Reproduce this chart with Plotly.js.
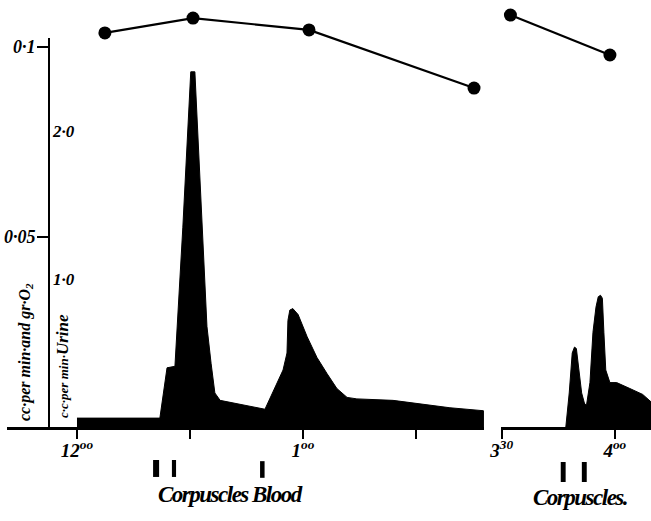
<!DOCTYPE html>
<html>
<head>
<meta charset="utf-8">
<script src="https://cdn.plot.ly/plotly-3.0.1.min.js"></script>
<style>html,body{margin:0;padding:0;background:#fff;}#chart{width:651px;height:521px;}</style>
</head>
<body>
<div id="chart"></div>
<script>
// ---- data (time in minutes after 12:00) ----
// urine, first period (cc per min)
const urineTime1 = [0, 22.0, 23.9, 26.0, 28.1, 30.2, 31.3, 32.4, 33.5, 34.5, 35.6, 36.6, 38.0, 49.9, 54.7, 55.75, 56.0, 56.5, 57.3, 58.7, 61.1, 63.7, 66.4, 69.0, 71.7, 74.3, 83.9, 90.3, 99.0, 107.9, 107.9];
const urineValue1 = [0.06, 0.06, 0.40, 0.41, 1.35, 2.40, 2.40, 1.80, 1.14, 0.68, 0.43, 0.23, 0.18, 0.12, 0.385, 0.50, 0.72, 0.79, 0.80, 0.76, 0.61, 0.47, 0.36, 0.26, 0.20, 0.19, 0.18, 0.16, 0.13, 0.11, 0];
// urine, second period
const urineTime2 = [227.0, 227.9, 228.7, 229.3, 229.8, 230.4, 231.2, 232.0, 232.5, 233.4, 234.2, 235.0, 235.6, 236.2, 236.7, 237.1, 237.6, 238.7, 240.5, 244.0, 247.4, 249.6];
const urineValue2 = [0, 0.23, 0.50, 0.54, 0.53, 0.41, 0.23, 0.155, 0.15, 0.30, 0.64, 0.81, 0.88, 0.89, 0.87, 0.64, 0.385, 0.30, 0.30, 0.26, 0.22, 0.17];
// oxygen (cc per min and gr.)
const o2Time1 = [7.4, 30.8, 61.6, 105.4];
const o2Value1 = [0.1037, 0.1076, 0.1045, 0.0892];
const o2Time2 = [212.3, 238.7];
const o2Value2 = [0.1084, 0.0979];
// injections
const corpusclesTimes1 = [21.0, 25.75];
const bloodTimes = [49.2];
const corpusclesTimes2 = [226.3, 231.9];
// ticks
const xTickVals1 = [0, 30, 60, 90];
const xTickText1 = ['12<sup>oo</sup>', '', '1<sup>oo</sup>', ''];
const xTickVals2 = [210, 240];
const xTickText2 = ['3<sup>30</sup>', '4<sup>oo</sup>'];
const o2TickVals = [0.05, 0.1];
const o2TickText = ['0·05', '0·1'];
const urineTickVals = [1, 2];
const urineTickText = ['1·0', '2·0'];

// ---- styling ----
const FAM = '"Liberation Serif", "DejaVu Serif", serif';
const labelFont = (s) => ({family: FAM, size: s, color: '#000', style: 'italic', weight: 'bold'});
const W = 651;
const cond = (t, ls) => '<span style="letter-spacing:' + ls + 'px">' + t + '</span>';

const traces = [
  {x: urineTime1, y: urineValue1, xaxis: 'x', yaxis: 'y2', mode: 'lines', fill: 'tozeroy',
   fillcolor: '#000', line: {color: '#000', width: 1}, hoverinfo: 'skip'},
  {x: urineTime2, y: urineValue2, xaxis: 'x2', yaxis: 'y2', mode: 'lines', fill: 'tozeroy',
   fillcolor: '#000', line: {color: '#000', width: 1}, hoverinfo: 'skip'},
  {x: o2Time1, y: o2Value1, xaxis: 'x', yaxis: 'y', mode: 'lines+markers',
   line: {color: '#000', width: 2.2}, marker: {color: '#000', size: 13}, cliponaxis: false},
  {x: o2Time2, y: o2Value2, xaxis: 'x2', yaxis: 'y', mode: 'lines+markers',
   line: {color: '#000', width: 2.2}, marker: {color: '#000', size: 13}, cliponaxis: false}
];

function injShapes(times, xref, y0, y1, w) {
  return times.map(t => ({type: 'rect', xref: xref, yref: 'paper', x0: t - w / 2, x1: t + w / 2,
    y0: y0, y1: y1, fillcolor: '#000', line: {width: 0}}));
}
const shapes = [
  {type: 'line', xref: 'paper', yref: 'y', x0: 49 / W, x1: 49 / W, y0: 0, y1: 0.1024,
   line: {color: '#000', width: 2}},
  ...injShapes([corpusclesTimes1[0]], 'x', -0.0773, -0.117, 1.6),
  ...injShapes([corpusclesTimes1[1]], 'x', -0.0773, -0.117, 1.1),
  ...injShapes(bloodTimes, 'x', -0.08, -0.119, 1.2),
  ...injShapes(corpusclesTimes2, 'x2', -0.082, -0.1288, 1.3)
];

const annotations = [
  {text: 'cc·per min·and gr·O<sub>2</sub>', xref: 'paper', yref: 'paper', x: 25 / W, y: 0.1756,
   textangle: -90, showarrow: false, xanchor: 'center', yanchor: 'middle', font: labelFont(16)},
  {text: '<span style="font-size:13px">c·c·per min·</span>Urine', xref: 'paper', yref: 'paper', x: 63 / W, y: 0.143,
   textangle: -90, showarrow: false, xanchor: 'center', yanchor: 'middle', font: labelFont(17)},
  {text: cond('Corpuscles', -1.5), xref: 'paper', yref: 'paper', x: 203.5 / W, y: -0.157, showarrow: false,
   xanchor: 'center', yanchor: 'middle', font: labelFont(23)},
  {text: cond('Blood', -1.5), xref: 'paper', yref: 'paper', x: 277 / W, y: -0.157, showarrow: false,
   xanchor: 'center', yanchor: 'middle', font: labelFont(23)},
  {text: cond('Corpuscles.', -1.5), xref: 'paper', yref: 'paper', x: 580 / W, y: -0.164, showarrow: false,
   xanchor: 'center', yanchor: 'middle', font: labelFont(23)}
];

const axisCommon = {showgrid: false, zeroline: false, showline: true, linecolor: '#000', linewidth: 2.5,
  ticks: 'outside', ticklen: 9, tickwidth: 2.5, tickcolor: '#000', tickfont: labelFont(19), tickmode: 'array',
  ticklabelstandoff: -4, fixedrange: true};

const layout = {
  width: 651, height: 521,
  margin: {l: 0, r: 0, t: 0, b: 94, pad: 0},
  paper_bgcolor: '#fff', plot_bgcolor: '#fff',
  showlegend: false,
  xaxis: Object.assign({}, axisCommon, {domain: [7 / W, 484 / W], range: [-18.58, 108.05], anchor: 'y',
    tickvals: xTickVals1, ticktext: xTickText1}),
  xaxis2: Object.assign({}, axisCommon, {domain: [501 / W, 1], range: [209.8, 249.6], anchor: 'y',
    tickvals: xTickVals2, ticktext: xTickText2}),
  yaxis: {domain: [0, 1], range: [0, 427 / 3800], anchor: 'free', position: 49 / W, showline: false,
    showgrid: false, zeroline: false, ticks: 'outside', ticklen: 12, tickwidth: 2, tickcolor: '#000',
    ticklabelstandoff: -2,
    tickmode: 'array', tickvals: o2TickVals, ticktext: o2TickText, tickfont: labelFont(18), fixedrange: true},
  yaxis2: {overlaying: 'y', range: [0, 427 / 148], anchor: 'free', position: 49 / W, side: 'left',
    showline: false, showgrid: false, zeroline: false, ticks: '', ticklabelposition: 'inside',
    tickmode: 'array', tickvals: urineTickVals, ticktext: urineTickText, tickfont: labelFont(17), fixedrange: true},
  shapes: shapes,
  annotations: annotations
};

Plotly.newPlot('chart', traces, layout, {displayModeBar: false, staticPlot: true});
</script>
</body>
</html>
